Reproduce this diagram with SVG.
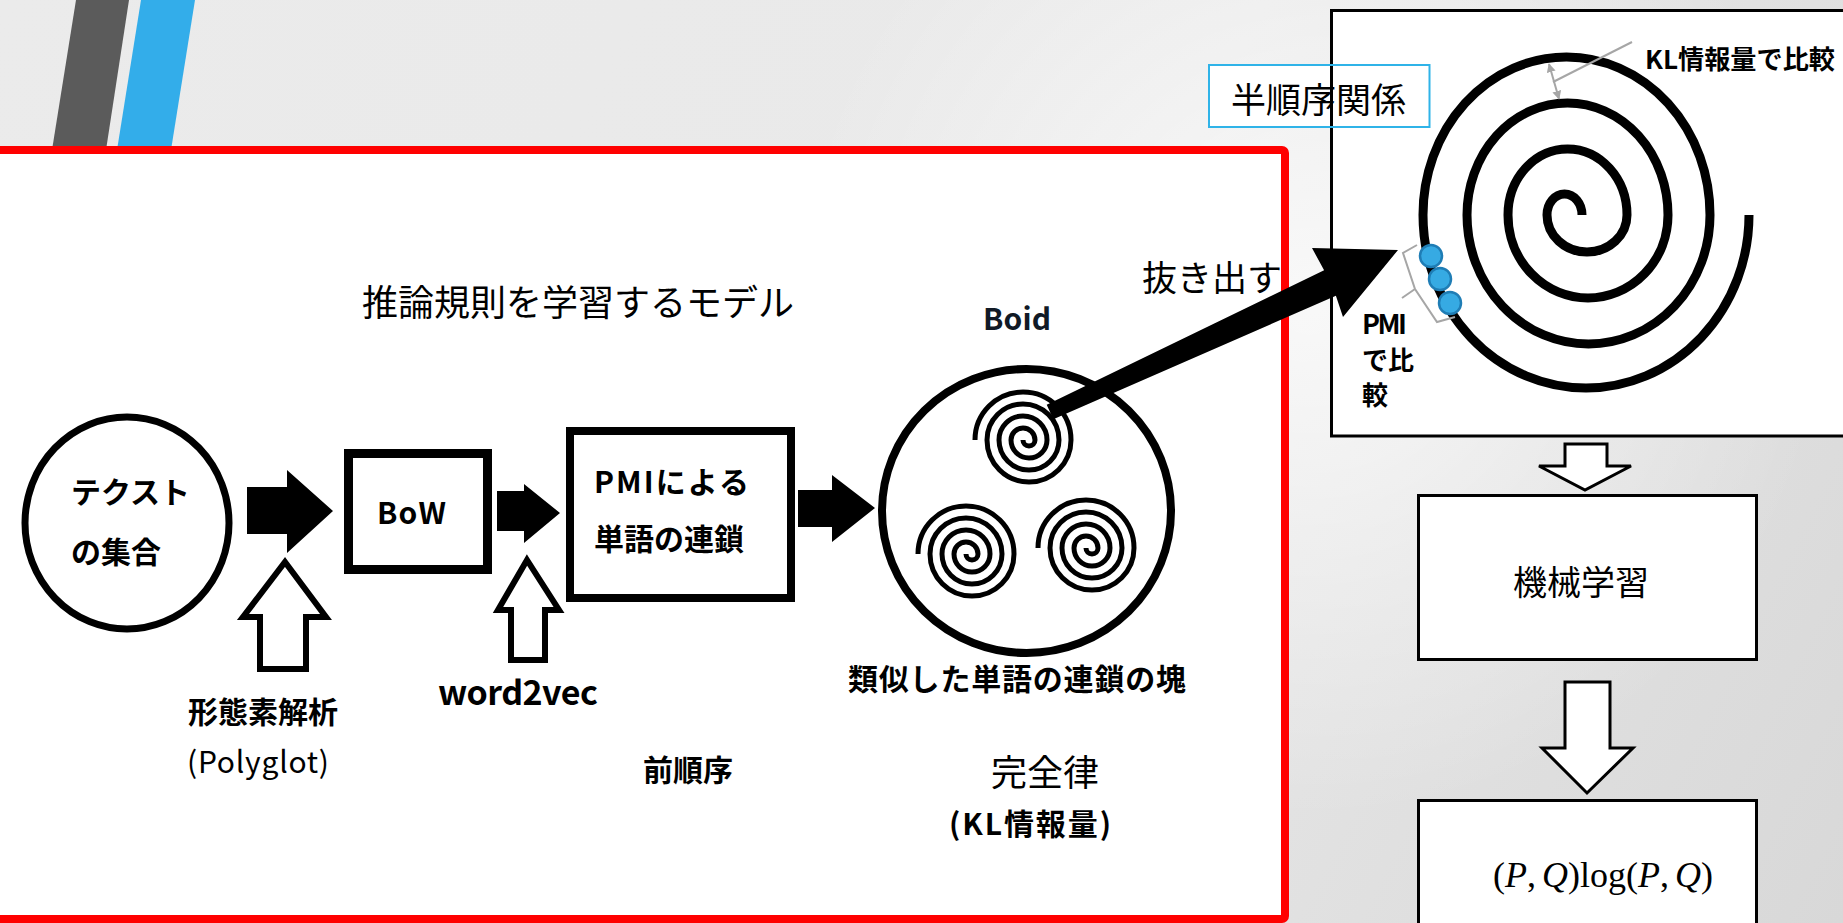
<svg xmlns="http://www.w3.org/2000/svg" width="1843" height="923" viewBox="0 0 1843 923">
  <defs>
    <linearGradient id="bg" x1="0" y1="0" x2="1843" y2="923" gradientUnits="userSpaceOnUse">
      <stop offset="0" stop-color="#ebebeb"/>
      <stop offset="0.55" stop-color="#e9e9e9"/>
      <stop offset="1" stop-color="#d8d8d8"/>
    </linearGradient>
    <radialGradient id="glow" cx="1310" cy="300" r="520" gradientUnits="userSpaceOnUse">
      <stop offset="0" stop-color="#ffffff" stop-opacity="0.75"/>
      <stop offset="1" stop-color="#ffffff" stop-opacity="0"/>
    </radialGradient>
    <marker id="grayHead" viewBox="0 0 10 10" refX="9" refY="5" markerWidth="9" markerHeight="9" markerUnits="userSpaceOnUse" orient="auto-start-reverse">
      <path d="M0,0 L10,5 L0,10 Z" fill="#a6a6a6"/>
    </marker>
    <style>
      .jp { font-family: "Noto Sans CJK JP", "Noto Sans", sans-serif; fill: #000; }
      .b { font-weight: bold; }
      .n30 { font-size: 30px; }
      .n36 { font-size: 36px; }
      .n35 { font-size: 35px; }
      .mid { dominant-baseline: central; }
      .frame { fill: #fff; stroke: #000; }
      .solid { fill: #000; stroke: none; }
      .hollow { fill: #fff; stroke: #000; stroke-linejoin: miter; }
      .swirl { fill: none; stroke: #000; stroke-width: 5; }
      .bigswirl { fill: none; stroke: #000; stroke-width: 9; }
      .dot { fill: #36aae3; stroke: #1f7db5; stroke-width: 2.5; }
      .note { fill: none; stroke: #a6a6a6; stroke-width: 2; }
      .math { font-family: "Liberation Serif", serif; font-size: 36px; fill: #000; }
    </style>
  </defs>

  <!-- backdrop -->
  <rect x="0" y="0" width="1843" height="923" fill="url(#bg)"/>
  <rect x="0" y="0" width="1843" height="923" fill="url(#glow)"/>
  <polygon points="76,0 129,0 106,150 52,150" fill="#5b5b5b"/>
  <polygon points="141,0 195,0 171,150 117,150" fill="#33adea"/>

  <!-- model panel -->
  <g id="model-panel">
    <rect x="-20" y="150" width="1305" height="769" rx="3" fill="#fff" stroke="#ff0000" stroke-width="8"/>
    <text class="jp n36 mid" x="362" y="300">推論規則を学習するモデル</text>
  </g>

  <g id="node-texts">
    <ellipse cx="127" cy="523" rx="102" ry="106" class="frame" stroke-width="7"/>
    <text class="jp b n30 mid" x="71" y="490">テクスト</text>
    <text class="jp b n30 mid" x="71" y="550">の集合</text>
  </g>

  <g id="node-bow">
    <rect x="348.5" y="453.5" width="139" height="116" class="frame" stroke-width="9"/>
    <text class="jp b n30 mid" x="377" y="511" textLength="69">BoW</text>
  </g>

  <g id="node-pmi">
    <rect x="570" y="431" width="221" height="167" class="frame" stroke-width="8"/>
    <text class="jp b n30 mid" x="594" y="480" textLength="155">PMIによる</text>
    <text class="jp b n30 mid" x="594" y="537">単語の連鎖</text>
  </g>

  <g id="node-boid">
    <text class="jp b n30 mid" x="983" y="317" textLength="68" style="fill:#111a26">Boid</text>
    <ellipse cx="1026.5" cy="511" rx="144.5" ry="142" class="frame" stroke-width="8"/>
    <path class="swirl" d="M1023,440 A6,6 0 0 0 1035,440 A12,12 0 0 0 1011,440 A18,18 0 0 0 1047,440 A24,24 0 0 0 999,440 A30,30 0 0 0 1059,440 A36,36 0 0 0 987,440 A42,42 0 0 0 1071,440 A48,48 0 0 0 975,440"/>
    <path class="swirl" d="M966,554 A6,6 0 0 0 978,554 A12,12 0 0 0 954,554 A18,18 0 0 0 990,554 A24,24 0 0 0 942,554 A30,30 0 0 0 1002,554 A36,36 0 0 0 930,554 A42,42 0 0 0 1014,554 A48,48 0 0 0 918,554"/>
    <path class="swirl" d="M1086,548 A6,6 0 0 0 1098,548 A12,12 0 0 0 1074,548 A18,18 0 0 0 1110,548 A24,24 0 0 0 1062,548 A30,30 0 0 0 1122,548 A36,36 0 0 0 1050,548 A42,42 0 0 0 1134,548 A48,48 0 0 0 1038,548"/>
    <text class="jp b n30 mid" x="848" y="677" textLength="338">類似した単語の連鎖の塊</text>
  </g>

  <g id="labels">
    <text class="jp b n30 mid" x="188" y="710">形態素解析</text>
    <text class="jp n30 mid" x="187" y="760" textLength="142">(Polyglot)</text>
    <text class="jp b mid" x="438" y="690" style="font-size:34px" textLength="160">word2vec</text>
    <text class="jp b n30 mid" x="643" y="768">前順序</text>
    <text class="jp n36 mid" x="991" y="770">完全律</text>
    <text class="jp b n30 mid" x="949" y="822" textLength="162">(KL情報量)</text>
    <text class="jp n35 mid" x="1142" y="275">抜き出す</text>
  </g>

  <!-- semi-order spiral panel -->
  <g id="node-spiral">
    <rect x="1331.5" y="10.5" width="520" height="425.5" class="frame" stroke-width="3"/>
    <path class="bigswirl" d="M1582,215 A17.5,21 0 0 0 1547,215 A40,37 0 0 0 1627,215 A59.5,66 0 0 0 1508,215 A80,83 0 0 0 1668,215 A100.5,112 0 0 0 1467,215 A121.5,129 0 0 0 1710,215 A143.5,158 0 0 0 1423,215 A163,173 0 0 0 1749,215"/>
    <circle class="dot" cx="1431" cy="256" r="11"/>
    <circle class="dot" cx="1440" cy="279" r="11"/>
    <circle class="dot" cx="1450" cy="303" r="11"/>
    <path class="note" d="M1417,245 L1403,253 L1415,289 L1437,322 L1455,317 M1415,289 L1402,298"/>
    <line class="note" x1="1632" y1="42" x2="1553" y2="82"/>
    <line class="note" x1="1549" y1="64" x2="1559" y2="99" marker-start="url(#grayHead)" marker-end="url(#grayHead)"/>
    <text class="jp b mid" x="1645" y="57" style="font-size:26px" textLength="190" lengthAdjust="spacingAndGlyphs">KL情報量で比較</text>
    <text class="jp b mid" x="1362" y="322" style="font-size:27px" textLength="45">PMI</text>
    <text class="jp b mid" x="1362" y="358" style="font-size:26px">で比</text>
    <text class="jp b mid" x="1362" y="393" style="font-size:26px">較</text>
  </g>

  <g id="node-semiorder">
    <rect x="1209" y="65" width="121" height="62" fill="#fff"/>
    <rect x="1209" y="65" width="220.5" height="62" fill="none" stroke="#2fb3e8" stroke-width="2"/>
    <text class="jp n35 mid" x="1231" y="97">半順序関係</text>
  </g>

  <g id="node-ml">
    <rect x="1418.5" y="495.5" width="338" height="164" class="frame" stroke-width="3"/>
    <text class="jp mid" x="1513" y="580" style="font-size:34px">機械学習</text>
  </g>

  <g id="node-kl">
    <rect x="1418.5" y="800.5" width="338" height="140" class="frame" stroke-width="3"/>
    <text class="math" x="1493" y="887">(<tspan font-style="italic">P</tspan>,<tspan dx="6" font-style="italic">Q</tspan>)log(<tspan font-style="italic">P</tspan>,<tspan dx="6" font-style="italic">Q</tspan>)</text>
  </g>

  <!-- connectors -->
  <g id="connectors">
    <polygon class="solid" points="247,487 287,487 287,470 333,511 287,553 287,534 247,534"/>
    <polygon class="solid" points="497,491 524,491 524,484 560,513 524,543 524,531 497,531"/>
    <polygon class="solid" points="798,490 832,490 832,475 875,508 832,542 832,527 798,527"/>
    <polygon class="hollow" stroke-width="6" points="285,562 326,617 306,617 306,669 260,669 260,617 243,617"/>
    <polygon class="hollow" stroke-width="6" points="527,560 559,610 545,610 545,660 511,660 511,610 498,610"/>
    <polygon class="solid" points="1046.7,404.7 1324.1,270.3 1312,248 1398,250 1343,317 1335.9,295.7 1053.3,419.3"/>
    <polygon class="hollow" stroke-width="3" points="1565,444 1607,444 1607,466 1631,466 1585,490 1539,466 1565,466"/>
    <polygon class="hollow" stroke-width="3" points="1565,682 1610,682 1610,748 1633,748 1587,793 1542,748 1565,748"/>
  </g>
</svg>
